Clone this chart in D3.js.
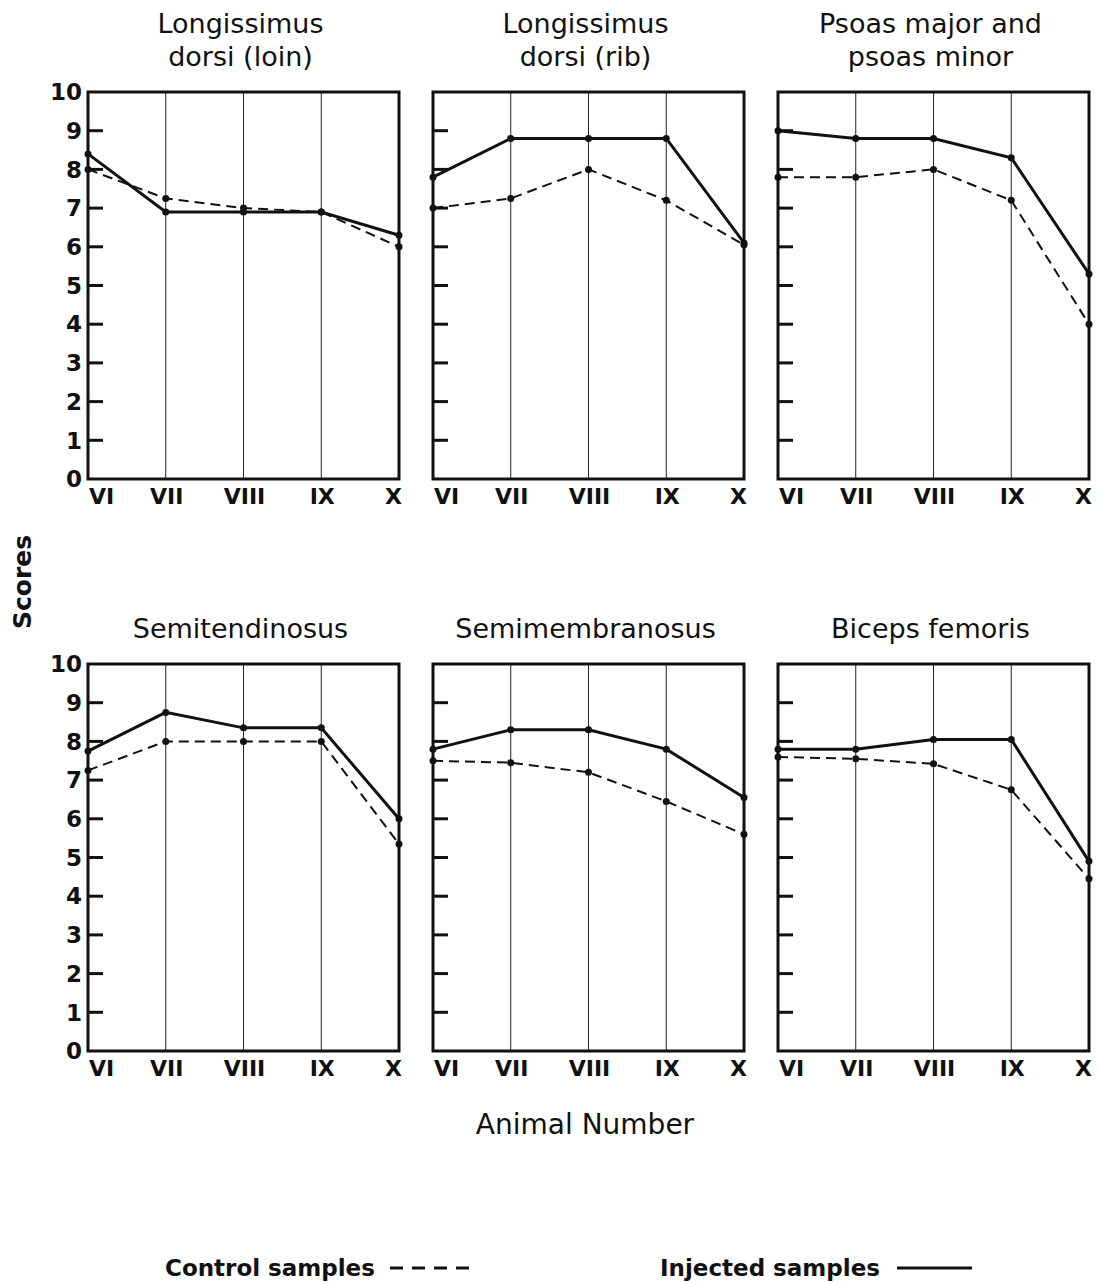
<!DOCTYPE html>
<html>
<head>
<meta charset="utf-8">
<script src="https://cdn.jsdelivr.net/npm/d3@7"></script>
<style>
  body { margin: 0; background: #fff; }
  text { font-family: "DejaVu Sans", sans-serif; fill: #111; }
</style>
</head>
<body>
<script>
// animal numbers on the x axis
var animals = ["VI", "VII", "VIII", "IX", "X"];
var yTicks = [0, 1, 2, 3, 4, 5, 6, 7, 8, 9, 10];

// panel titles, one or two lines each
var titles = [
  ["Longissimus", "dorsi (loin)"],
  ["Longissimus", "dorsi (rib)"],
  ["Psoas major and", "psoas  minor"],
  ["Semitendinosus"],
  ["Semimembranosus"],
  ["Biceps  femoris"]
];

// scores
var injected = [
  [8.4, 6.9, 6.9, 6.9, 6.3],
  [7.8, 8.8, 8.8, 8.8, 6.1],
  [9.0, 8.8, 8.8, 8.3, 5.3],
  [7.75, 8.75, 8.35, 8.35, 6.0],
  [7.8, 8.3, 8.3, 7.8, 6.55],
  [7.8, 7.8, 8.05, 8.05, 4.9]
];
var control = [
  [8.0, 7.25, 7.0, 6.9, 6.0],
  [7.0, 7.25, 8.0, 7.2, 6.05],
  [7.8, 7.8, 8.0, 7.2, 4.0],
  [7.25, 8.0, 8.0, 8.0, 5.35],
  [7.5, 7.45, 7.2, 6.45, 5.6],
  [7.6, 7.55, 7.42, 6.75, 4.45]
];

var W = 1099, H = 1283;
var panelW = 311, panelH = 387;
var lefts = [88, 433, 778];
var tops = [92, 664];

var svg = d3.select("body").append("svg")
    .attr("width", W)
    .attr("height", H);

titles.forEach(function (t, i) {
    var col = i % 3, row = Math.floor(i / 3);
    var x0 = lefts[col], y0 = tops[row];

    var x = d3.scalePoint().domain(animals).range([0, panelW]);
    var y = d3.scaleLinear().domain([0, 10]).range([panelH, 0]);

    var g = svg.append("g")
        .attr("transform", "translate(" + x0 + "," + y0 + ")");

    // vertical grid lines
    g.selectAll(".grid")
        .data(animals.slice(1, 4))
        .enter().append("line")
        .attr("x1", function (d) { return x(d); })
        .attr("x2", function (d) { return x(d); })
        .attr("y1", 0)
        .attr("y2", panelH)
        .attr("stroke", "#222")
        .attr("stroke-width", 1);

    // frame
    g.append("rect")
        .attr("width", panelW)
        .attr("height", panelH)
        .attr("fill", "none")
        .attr("stroke", "#111")
        .attr("stroke-width", 3);

    // inner ticks on left edge
    g.selectAll(".tick")
        .data(yTicks.slice(1, 10))
        .enter().append("line")
        .attr("x1", 0)
        .attr("x2", 15)
        .attr("y1", function (d) { return y(d); })
        .attr("y2", function (d) { return y(d); })
        .attr("stroke", "#111")
        .attr("stroke-width", 3);

    // y labels only on the first column
    if (col == 0) {
        g.selectAll(".ylab")
            .data(yTicks)
            .enter().append("text")
            .attr("x", -6)
            .attr("y", function (d) { return y(d); })
            .attr("dy", "0.36em")
            .attr("text-anchor", "end")
            .attr("font-size", 23)
            .attr("font-weight", "bold")
            .text(function (d) { return d; });
    }

    // x labels
    g.selectAll(".xlab")
        .data(animals)
        .enter().append("text")
        .attr("x", function (d, k) { return k == 0 ? x(d) + 1 : (k == 4 ? x(d) + 3 : x(d) + 1); })
        .attr("y", panelH + 25)
        .attr("text-anchor", function (d, k) { return k == 0 ? "start" : (k == 4 ? "end" : "middle"); })
        .attr("font-size", 22)
        .attr("font-weight", "bold")
        .text(function (d) { return d; });

    // title
    t.forEach(function (line, k) {
        svg.append("text")
            .attr("x", x0 + panelW / 2 - 3)
            .attr("y", y0 - (t.length - k) * 33 + 7)
            .attr("text-anchor", "middle")
            .attr("font-size", 27)
            .text(line);
    });

    var line = d3.line()
        .x(function (d, k) { return x(animals[k]); })
        .y(function (d) { return y(d); });

    g.append("path")
        .datum(control[i])
        .attr("d", line)
        .attr("fill", "none")
        .attr("stroke", "#111")
        .attr("stroke-width", 2)
        .attr("stroke-dasharray", "10,6");

    g.append("path")
        .datum(injected[i])
        .attr("d", line)
        .attr("fill", "none")
        .attr("stroke", "#111")
        .attr("stroke-width", 3);

    [control[i], injected[i]].forEach(function (s) {
        g.selectAll(null)
            .data(s)
            .enter().append("circle")
            .attr("cx", function (d, k) { return x(animals[k]); })
            .attr("cy", function (d) { return y(d); })
            .attr("r", 3.5)
            .attr("fill", "#111");
    });
});

// axis titles
svg.append("text")
    .attr("transform", "translate(31,582) rotate(-90)")
    .attr("text-anchor", "middle")
    .attr("font-size", 25)
    .attr("font-weight", "bold")
    .text("Scores");

svg.append("text")
    .attr("x", 585)
    .attr("y", 1134)
    .attr("text-anchor", "middle")
    .attr("font-size", 28)
    .text("Animal Number");

// legend
svg.append("text")
    .attr("x", 165)
    .attr("y", 1276)
    .attr("font-size", 23)
    .attr("font-weight", "bold")
    .text("Control samples");
svg.append("line")
    .attr("x1", 390).attr("x2", 472)
    .attr("y1", 1268).attr("y2", 1268)
    .attr("stroke", "#111")
    .attr("stroke-width", 3)
    .attr("stroke-dasharray", "13,9");

svg.append("text")
    .attr("x", 660)
    .attr("y", 1276)
    .attr("font-size", 23)
    .attr("font-weight", "bold")
    .text("Injected samples");
svg.append("line")
    .attr("x1", 897).attr("x2", 972)
    .attr("y1", 1268).attr("y2", 1268)
    .attr("stroke", "#111")
    .attr("stroke-width", 3);
</script>
</body>
</html>
